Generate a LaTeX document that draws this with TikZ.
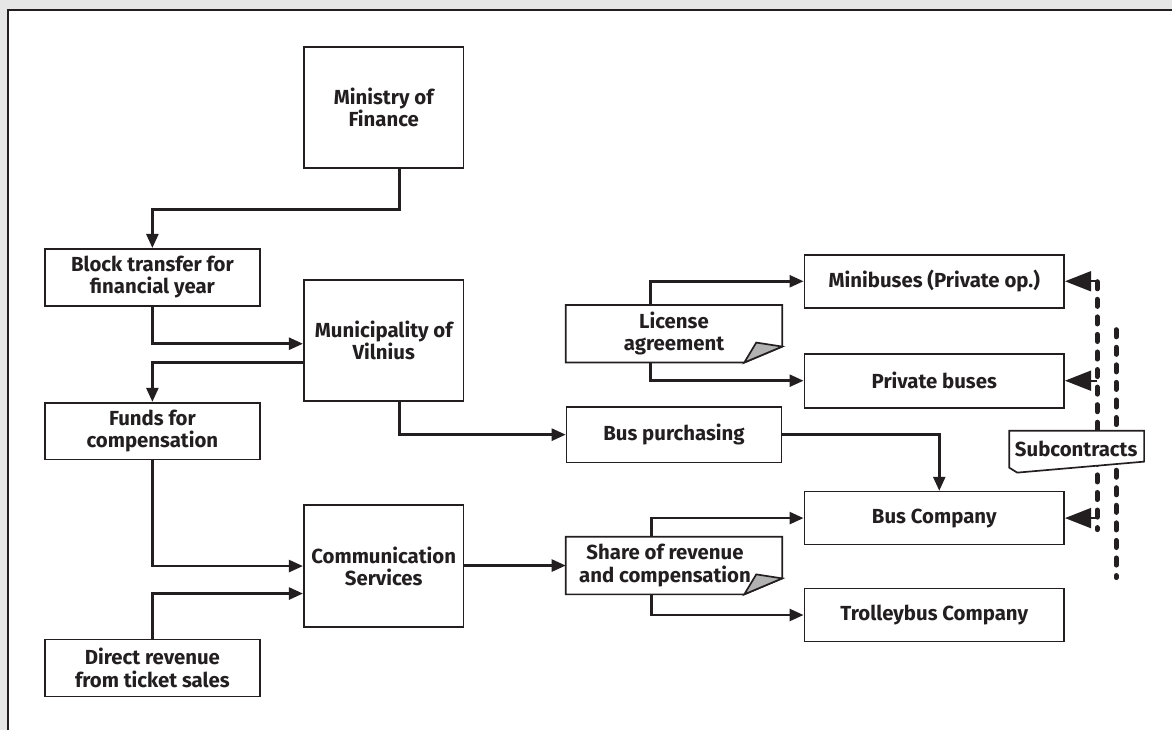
\documentclass[tikz,border=0pt]{standalone}
\usepackage{tikz}
\usepackage{color}
\usepackage{fontspec}
\setmainfont{Fira Sans}
\usetikzlibrary{arrows.meta}

\newcommand{\NoteFold}[1]{%
  \draw[line width=1.2pt,draw=cline] (#1.north west) -- (#1.north east) -- ([yshift=0.4cm]#1.south east) -- ([xshift=-0.95cm]#1.south east) -- (#1.south west) -- cycle;
  \filldraw[line width=1.2pt,draw=cline,fill=cfold] ([xshift=-0.95cm]#1.south east) -- ([xshift=-0.65cm,yshift=0.5cm]#1.south east) -- ([yshift=0.4cm]#1.south east) -- cycle;}

\begin{document}
\begin{tikzpicture}[
  box/.style={draw=cline,fill=white,line width=1.2pt,align=center,text=ctext,inner sep=0pt,
    font=\fontsize{14.5}{15.8}\selectfont\bfseries},
  note/.style={box,draw=none},
  flow/.style={draw=cline,line width=1.8pt,-{Triangle[length=0.35cm,width=0.3cm]}},
  subline/.style={draw=cline,line width=3.6pt,line cap=round,dash pattern=on 5pt off 7.5pt},
  subarrow/.style={draw=cline,line width=1.2pt,-{Triangle[length=0.65cm,width=0.5cm]}}]
\definecolor{cbg}{rgb}{0.902,0.902,0.902}
\definecolor{cline}{rgb}{0.137,0.122,0.125}
\definecolor{ctext}{rgb}{0.137,0.122,0.125}
\definecolor{cfold}{rgb}{0.70,0.70,0.70}
%
\fill[cbg] (0,0) rectangle (29.325,18.275);
\fill[white] (0.2,0) rectangle (29.325,18.025);
\draw[cline,line width=1.3pt] (0.2,0) -- (0.2,18.025) -- (29.325,18.025);
%
\node[box,minimum width=4cm,minimum height=3.025cm] (ministry) at (9.6,15.5875) {Ministry of\\Finance};
\node[box,minimum width=5.375cm,minimum height=1.425cm] (block) at (3.8125,11.3375) {Block transfer for\\financial year};
\node[box,minimum width=4cm,minimum height=3.025cm] (munic) at (9.6,9.7625) {Municipality of\\Vilnius};
\node[box,minimum width=5.375cm,minimum height=1.425cm] (funds) at (3.8125,7.4875) {Funds for\\compensation};
\node[box,minimum width=4cm,minimum height=3.05cm] (comm) at (9.6,4.1125) {Communication\\Services};
\node[box,minimum width=5.375cm,minimum height=1.425cm] (direct) at (3.8125,1.5625) {Direct revenue\\from ticket sales};
%
\node[note,minimum width=5.375cm,minimum height=1.4cm] (license) at (16.8625,9.925) {License\\agreement};
\NoteFold{license}
\node[box,minimum width=5.375cm,minimum height=1.4cm] (buspur) at (16.8625,7.4) {Bus purchasing};
\node[note,minimum width=5.375cm,minimum height=1.4cm] (share) at (16.8625,4.125) {Share of revenue\hspace*{0.45cm}\\and compensation\hspace*{0.45cm}};
\NoteFold{share}
%
\node[box,minimum width=6.5cm,minimum height=1.325cm] (minib) at (23.375,11.2375) {Minibuses (Private op.)};
\node[box,minimum width=6.5cm,minimum height=1.35cm] (privb) at (23.375,8.75) {Private buses};
\node[box,minimum width=6.5cm,minimum height=1.325cm] (busco) at (23.375,5.3125) {Bus Company};
\node[box,minimum width=6.5cm,minimum height=1.325cm] (trolley) at (23.375,2.8875) {Trolleybus Company};
%
\draw[flow] ([xshift=0.4cm]ministry.south) -- ++(0,-1.025) -| (block.north);
\draw[flow] (block.south) |- ([yshift=-0.0875cm]munic.west);
\draw[flow] ([yshift=-0.5625cm]munic.west) -| (funds.north);
\draw[flow] (funds.south) |- (comm.west);
\draw[flow] (direct.north) |- ([yshift=-0.6875cm]comm.west);
\draw[flow] (comm.east |- share.west) -- (share.west);
\draw[flow] ([xshift=0.4cm]munic.south) |- (buspur.west);
\draw[flow] (buspur.east) -| ([xshift=0.125cm]busco.north);
\draw[flow] ([xshift=-0.5875cm]license.north) |- (minib.west);
\draw[flow] ([xshift=-0.5875cm]license.south) |- (privb.west);
\draw[flow] ([xshift=-0.5625cm]share.north) |- (busco.west);
\draw[flow] ([xshift=-0.5625cm]share.south) |- (trolley.west);
%
\coordinate (sl1top) at (27.45,11.225);
\coordinate (sl1bot) at (27.45,5.025);
\coordinate (sl2top) at (27.925,10.025);
\coordinate (sl2bot) at (27.925,3.825);
\draw[subline] (sl1top) -- (sl1bot);
\draw[subline] (sl2top) -- (sl2bot);
\draw[subarrow] (minib.east -| sl1top) -- (minib.east);
\draw[subarrow] (privb.east -| sl1top) -- (privb.east);
\draw[subarrow] (busco.east -| sl1top) -- (busco.east);
%
\filldraw[draw=cline,fill=white,line width=1.2pt] (25.25,7.5) -- (28.625,7.5) -- (28.625,6.725) -- (25.45,6.45) -- (25.25,6.575) -- cycle;
\node[text=ctext,font=\fontsize{14.5}{15.8}\selectfont\bfseries] (subc) at (26.925,7.05) {Subcontracts};
%
\end{tikzpicture}
\end{document}
